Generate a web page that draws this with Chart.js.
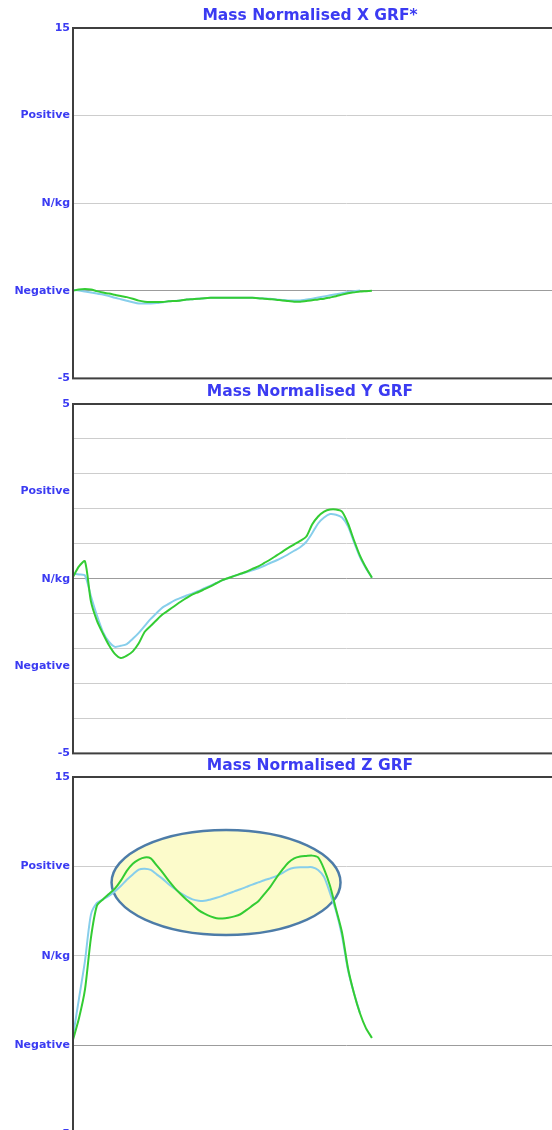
<!DOCTYPE html>
<html>
<head>
<meta charset="utf-8">
<title>Mass Normalised GRF</title>
<script src="https://cdn.jsdelivr.net/npm/chart.js@4.4.1/dist/chart.umd.min.js"></script>
<style>
  html, body { margin: 0; padding: 0; background: #ffffff; width: 552px; height: 1130px; overflow: hidden; }
  .panel { position: absolute; left: 0; width: 630px; }
  .panel canvas { display: block; }
</style>
</head>
<body>
<div class="panel" style="top:0px;height:388px"><canvas id="grfX" width="630" height="388"></canvas></div>
<div class="panel" style="top:377px;height:386px"><canvas id="grfY" width="630" height="386"></canvas></div>
<div class="panel" style="top:750px;height:394px"><canvas id="grfZ" width="630" height="394"></canvas></div>
<script>
// Stance phase, % of contact time
const frames = [0, 2, 4, 6, 8, 10, 12, 14, 16, 18, 20, 22, 24, 26, 28, 30, 32, 34, 36, 38, 40,
  42, 44, 46, 48, 50, 52, 54, 56, 58, 60, 62, 64, 66, 68, 70, 72, 74, 76, 78, 80,
  82, 84, 86, 88, 90, 92, 94, 96, 98, 100];

// Medio-lateral force (N/kg)
const xTrial = [0.0, 0.08, 0.1, 0.08, -0.02, -0.1, -0.16, -0.23, -0.3, -0.36, -0.45,
  -0.56, -0.62, -0.64, -0.64, -0.64, -0.6, -0.58, -0.56, -0.5, -0.48,
  -0.46, -0.42, -0.4, -0.4, -0.4, -0.4, -0.4, -0.4, -0.4, -0.4,
  -0.42, -0.45, -0.48, -0.51, -0.55, -0.58, -0.62, -0.62, -0.58, -0.54,
  -0.49, -0.45, -0.38, -0.31, -0.22, -0.14, -0.09, -0.04, -0.02, 0.0];
const xReference = [0.05, 0.02, -0.04, -0.1, -0.16, -0.21, -0.3, -0.4, -0.48, -0.57, -0.65,
  -0.72, -0.72, -0.72, -0.7, -0.65, -0.6, -0.58, -0.55, -0.5, -0.48,
  -0.45, -0.42, -0.4, -0.4, -0.4, -0.4, -0.4, -0.4, -0.4, -0.4,
  -0.42, -0.44, -0.46, -0.49, -0.52, -0.55, -0.56, -0.55, -0.5, -0.46,
  -0.38, -0.32, -0.26, -0.2, -0.14, -0.07, -0.02, 0.02, null, null];

// Antero-posterior force (N/kg)
const yTrial = [0.05, 0.35, 0.5, -0.65, -1.2, -1.57, -1.9, -2.15, -2.27, -2.2, -2.08,
  -1.85, -1.52, -1.35, -1.18, -1.02, -0.9, -0.78, -0.66, -0.55, -0.45,
  -0.38, -0.3, -0.22, -0.13, -0.04, 0.02, 0.08, 0.14, 0.2, 0.28,
  0.35, 0.45, 0.55, 0.66, 0.77, 0.88, 0.98, 1.08, 1.2, 1.55,
  1.78, 1.92, 1.98, 1.98, 1.92, 1.58, 1.1, 0.66, 0.32, 0.03];
const yReference = [0.15, 0.12, 0.09, -0.5, -1.05, -1.52, -1.8, -1.95, -1.92, -1.87, -1.72,
  -1.55, -1.35, -1.15, -0.98, -0.82, -0.72, -0.62, -0.55, -0.48, -0.42,
  -0.35, -0.27, -0.2, -0.12, -0.04, 0.02, 0.08, 0.13, 0.19, 0.24,
  0.3, 0.37, 0.45, 0.52, 0.6, 0.7, 0.8, 0.9, 1.05, 1.3,
  1.58, 1.75, 1.85, 1.83, 1.75, 1.5, 1.05, 0.62, 0.3, 0.03];

// Vertical force (N/kg)
const zTrial = [0.3, 1.5, 3.1, 6.0, 7.8, 8.15, 8.45, 8.75, 9.2, 9.75, 10.15,
  10.38, 10.5, 10.45, 10.05, 9.65, 9.2, 8.8, 8.45, 8.13, 7.85,
  7.55, 7.35, 7.2, 7.1, 7.08, 7.12, 7.2, 7.32, 7.55, 7.8,
  8.05, 8.45, 8.85, 9.35, 9.8, 10.2, 10.45, 10.55, 10.58, 10.6,
  10.5, 9.85, 8.9, 7.6, 6.3, 4.3, 2.9, 1.78, 0.95, 0.4];
const zReference = [0.5, 2.6, 4.7, 7.3, 7.95, 8.15, 8.35, 8.6, 8.9, 9.25, 9.55,
  9.82, 9.87, 9.8, 9.55, 9.3, 9.0, 8.75, 8.5, 8.3, 8.15,
  8.08, 8.07, 8.15, 8.24, 8.35, 8.48, 8.6, 8.72, 8.85, 8.98,
  9.1, 9.22, 9.33, 9.45, 9.62, 9.82, 9.92, 9.95, 9.95, 9.95,
  9.8, 9.4, 8.5, 7.5, 6.1, 4.2, 2.9, 1.8, null, null];

// Axis ticks and their captions
const wideTickValues = [-5, 0, 5, 10, 15];
const wideTickLabels = ['-5', 'Negative', 'N/kg', 'Positive', '15'];
const narrowTickValues = [-5, -4, -3, -2.5, -2, -1, 0, 1, 2, 2.5, 3, 4, 5];
const narrowTickLabels = ['-5', '', '', 'Negative', '', '', 'N/kg', '', '', 'Positive', '', '', '5'];

const titles = ['Mass Normalised X GRF*', 'Mass Normalised Y GRF', 'Mass Normalised Z GRF'];

const TEXT_BLUE = '#3b3bf2';
const TRIAL_GREEN = '#33cc33';
const REF_BLUE = '#87ceeb';

// Dark box round the plotting area
const plotFrame = {
  id: 'plotFrame',
  afterDatasetsDraw(chart) {
    const { left, top, right, bottom } = chart.chartArea;
    const ctx = chart.ctx;
    ctx.save();
    ctx.strokeStyle = '#3f3f3f';
    ctx.lineWidth = 2;
    ctx.strokeRect(left, top, right - left, bottom - top);
    ctx.restore();
  }
};

// Shaded ellipse marking the loading peaks, placed in data units
const peakHighlight = {
  id: 'peakHighlight',
  beforeDatasetsDraw(chart, args, opts) {
    const xs = chart.scales.x, ys = chart.scales.y;
    const cx = xs.getPixelForValue(opts.xCenter);
    const cy = ys.getPixelForValue(opts.yCenter);
    const rx = Math.abs(xs.getPixelForValue(opts.xCenter + opts.xRadius) - cx);
    const ry = Math.abs(ys.getPixelForValue(opts.yCenter + opts.yRadius) - cy);
    const ctx = chart.ctx;
    ctx.save();
    ctx.beginPath();
    ctx.ellipse(cx, cy, rx, ry, 0, 0, Math.PI * 2);
    ctx.fillStyle = opts.fill;
    ctx.fill();
    ctx.lineWidth = opts.lineWidth;
    ctx.strokeStyle = opts.stroke;
    ctx.stroke();
    ctx.restore();
  }
};

function makeChart(canvasId, title, trial, reference, yMin, yMax, tickValues, tickLabels, titlePad, extraPlugins, extraOptions) {
  const plugins = {
    legend: { display: false },
    tooltip: { enabled: false },
    title: {
      display: true,
      text: title,
      color: TEXT_BLUE,
      font: { family: 'DejaVu Sans', size: 15.5, weight: 'bold', lineHeight: 1.2 },
      padding: titlePad
    }
  };
  Object.assign(plugins, extraOptions || {});
  return new Chart(document.getElementById(canvasId), {
    type: 'line',
    data: {
      labels: frames,
      datasets: [
        { label: 'Trial', data: trial, borderColor: TRIAL_GREEN, borderWidth: 2, pointRadius: 0, tension: 0.25, spanGaps: false },
        { label: 'Reference', data: reference, borderColor: REF_BLUE, borderWidth: 2, pointRadius: 0, tension: 0.25, spanGaps: false }
      ]
    },
    options: {
      responsive: false,
      animation: false,
      devicePixelRatio: 1,
      layout: { padding: { left: 0, right: 10, top: 0, bottom: 8 } },
      plugins,
      scales: {
        x: { type: 'linear', min: 0, max: 183, display: false },
        y: {
          type: 'linear',
          min: yMin,
          max: yMax,
          afterBuildTicks(scale) { scale.ticks = tickValues.map(v => ({ value: v })); },
          afterFit(scale) { scale.width = 73; },
          border: { display: false },
          grid: {
            drawTicks: false,
            lineWidth: 1,
            color(ctx) {
              const v = ctx.tick ? ctx.tick.value : null;
              if (v === null || !Number.isInteger(v)) return 'rgba(0,0,0,0)';
              return v === 0 ? '#9c9c9c' : '#cdcdcd';
            }
          },
          ticks: {
            autoSkip: false,
            padding: 3,
            color: TEXT_BLUE,
            font: { family: 'DejaVu Sans', size: 11, weight: 'bold' },
            callback(value) {
              const i = tickValues.indexOf(value);
              return i >= 0 ? tickLabels[i] : '';
            }
          }
        }
      }
    },
    plugins: [plotFrame].concat(extraPlugins || [])
  });
}

makeChart('grfX', titles[0], xTrial, xReference, -5, 15, wideTickValues, wideTickLabels, { top: 7, bottom: 2.4 });
makeChart('grfY', titles[1], yTrial, yReference, -5, 5, narrowTickValues, narrowTickLabels, { top: 6, bottom: 2.4 });
makeChart('grfZ', titles[2], zTrial, zReference, -5, 15, wideTickValues, wideTickLabels, { top: 7, bottom: 1.4 }, [peakHighlight], {
  peakHighlight: { xCenter: 51.2, yCenter: 9.1, xRadius: 38.3, yRadius: 2.94, fill: '#fcfbcb', stroke: '#4d7ca8', lineWidth: 2.5 }
});
</script>
</body>
</html>
